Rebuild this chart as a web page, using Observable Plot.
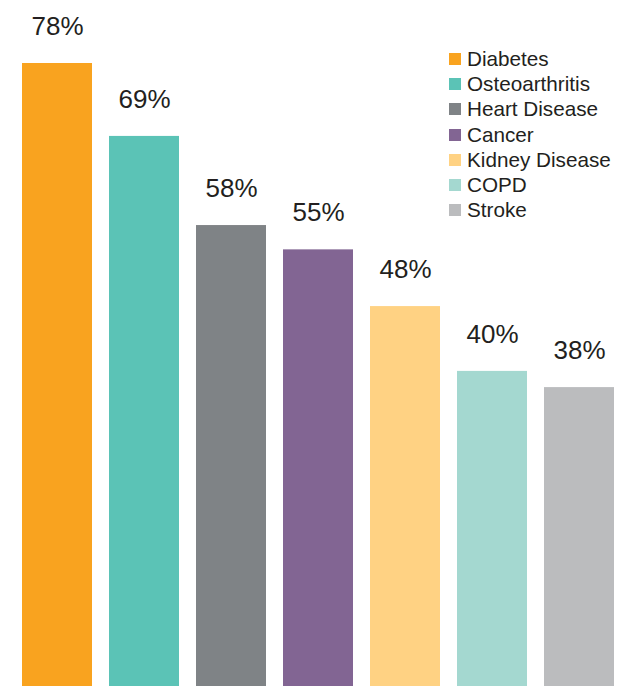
<!DOCTYPE html>
<html>
<head>
<meta charset="utf-8">
<script src="https://cdn.jsdelivr.net/npm/d3@7"></script>
<script src="https://cdn.jsdelivr.net/npm/@observablehq/plot@0.6"></script>
<style>
  html, body { margin: 0; padding: 0; background: #fff; overflow: hidden; }
  #wrap { position: relative; width: 626px; height: 686px; overflow: hidden; font-family: "Liberation Sans", Arial, sans-serif; }
  #legend { position: absolute; left: 449px; top: 46px; color: #231f20; font-size: 20.7px; }
  #legend .row { display: flex; align-items: center; height: 25.3px; white-space: nowrap; }
  #legend .sw { width: 12px; height: 12px; margin-right: 6px; flex: none; }
</style>
</head>
<body>
<div id="wrap"></div>
<script>
const categories = ["Diabetes", "Osteoarthritis", "Heart Disease", "Cancer", "Kidney Disease", "COPD", "Stroke"];
const values = [78, 69, 58, 55, 48, 40, 38];
const colors = ["#F9A31F", "#5BC3B6", "#7F8386", "#826593", "#FFD283", "#A4D8D0", "#BBBCBE"];

const data = categories.map((c, i) => ({category: c, value: values[i], label: values[i] + "%"}));

const chart = Plot.plot({
  width: 626,
  height: 686,
  marginTop: 63,
  marginBottom: 0,
  marginLeft: 21,
  marginRight: 11,
  style: {fontFamily: "Liberation Sans, Arial, sans-serif", background: "#fff"},
  x: {domain: categories, paddingInner: 0.2, paddingOuter: 0, axis: null},
  y: {domain: [0, 78], range: [695, 63], axis: null},
  color: {domain: categories, range: colors},
  marks: [
    Plot.barY(data, {x: "category", y: "value", fill: "category"}),
    Plot.text(data, {x: "category", y: "value", text: "label", dy: -37, fontSize: 26, fill: "#231f20", textAnchor: "middle", lineAnchor: "middle"})
  ]
});

const wrap = document.getElementById("wrap");
wrap.appendChild(chart);

const legend = document.createElement("div");
legend.id = "legend";
categories.forEach((c, i) => {
  const row = document.createElement("div");
  row.className = "row";
  const sw = document.createElement("span");
  sw.className = "sw";
  sw.style.background = colors[i];
  const t = document.createElement("span");
  t.textContent = c;
  row.appendChild(sw);
  row.appendChild(t);
  legend.appendChild(row);
});
wrap.appendChild(legend);
</script>
</body>
</html>
